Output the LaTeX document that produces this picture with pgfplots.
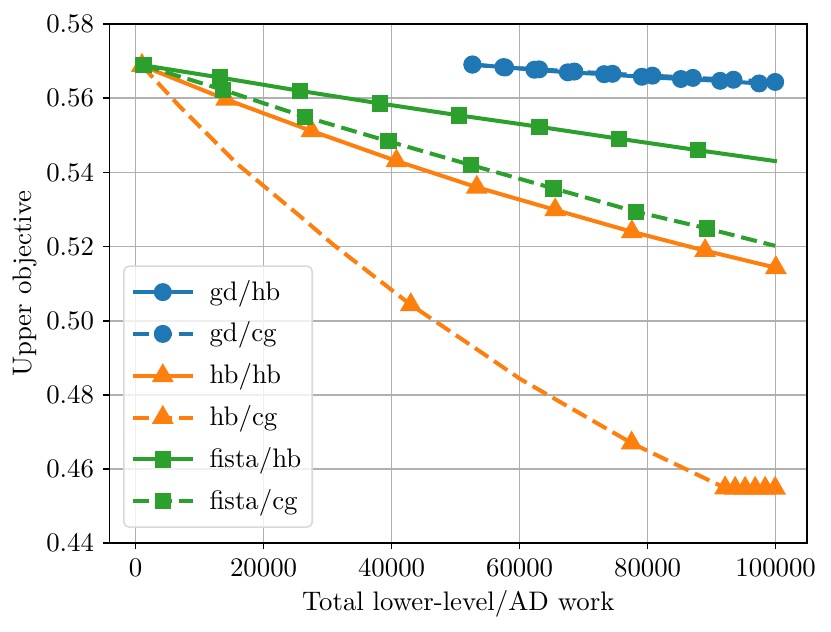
\documentclass[border=0pt]{standalone}
\usepackage{pgfplots}
\pgfplotsset{compat=1.18}
\definecolor{tabblue}{HTML}{1F77B4}
\definecolor{taborange}{HTML}{FF7F0E}
\definecolor{tabgreen}{HTML}{2CA02C}
\definecolor{gridgray}{HTML}{B0B0B0}
\begin{document}
\begin{tikzpicture}
\begin{axis}[
  name=ax,
  scale only axis,
  width=260.4pt, height=193.7pt,
  xmin=-4094, xmax=104920,
  ymin=0.44, ymax=0.58,
  xtick={0,20000,40000,60000,80000,100000},
  xticklabels={0,20000,40000,60000,80000,100000},
  ytick={0.44,0.46,0.48,0.50,0.52,0.54,0.56,0.58},
  yticklabels={0.44,0.46,0.48,0.50,0.52,0.54,0.56,0.58},
  scaled x ticks=false, scaled y ticks=false,
  tick align=outside,
  major tick length=2.2pt,
  xtick pos=bottom, ytick pos=left,
  tick style={black, line width=0.6pt},
  axis line style={black, line width=0.6pt},
  grid=major,
  major grid style={gridgray, line width=0.6pt},
  xlabel={Total lower-level/AD work},
  ylabel={Upper objective},
  xlabel style={at={(axis description cs:0.5,-0.1167)}, anchor=center},
  ylabel style={at={(axis description cs:-0.1206,0.5)}, anchor=center},
  every axis plot/.append style={line width=1.5pt},
  legend image code/.code={\draw[#1,mark indices={2},fill opacity=1,draw opacity=1] plot coordinates {(0pt,0pt) (11.2pt,0pt) (22.4pt,0pt)};},
  legend style={
    at={(axis description cs:0.0196,0.0294)}, anchor=south west,
    draw=black!15, line width=0.6pt, rounded corners=2pt,
    fill=white, fill opacity=0.8, text opacity=1,
    inner xsep=2.6pt, inner ysep=3.7pt, row sep=3.6pt, column sep=4pt,
    nodes={inner sep=1.5pt},
    cells={anchor=west},
  },
  legend cell align=left,
]
% gd/hb
\addplot[tabblue, solid, mark=*, mark size=2.6pt, mark options={solid}] coordinates {
(52630,0.5691) (57470,0.5684) (62310,0.5677) (67530,0.5670) (73200,0.5665)
(79090,0.5658) (85190,0.5652) (91330,0.5647) (97420,0.5640)
};
\addlegendentry{gd/hb}
% gd/cg
\addplot[tabblue, dash pattern=on 6pt off 2.6pt, mark=*, mark size=2.6pt, mark options={solid}] coordinates {
(52630,0.5691) (57730,0.5683) (63050,0.5678) (68560,0.5672) (74500,0.5666)
(80750,0.5661) (87060,0.5655) (93410,0.5650) (99920,0.5644)
};
\addlegendentry{gd/cg}
% hb/hb
\addplot[taborange, solid, mark=triangle*, mark size=3.2pt, mark options={solid}] coordinates {
(1000,0.5688) (14140,0.5597) (27470,0.5512) (40750,0.5431) (53310,0.5360)
(65550,0.5299) (77530,0.5240) (88980,0.5189) (100030,0.5143)
};
\addlegendentry{hb/hb}
% hb/cg
\addplot[taborange, dash pattern=on 6pt off 2.6pt, mark=triangle*, mark size=3.2pt, mark options={solid},
  mark indices={1,6,9,11,12,13,14,15,16}] coordinates {
(1000,0.5688) (6950,0.5577) (15810,0.5424) (25700,0.5282) (30900,0.5205)
(43000,0.5043) (53830,0.4917) (60080,0.4843) (77500,0.4670) (80130,0.4648)
(92100,0.4549) (93670,0.4548) (95230,0.4548) (96800,0.4548) (98360,0.4548) (99920,0.4548)
};
\addlegendentry{hb/cg}
% fista/hb
\addplot[tabgreen, solid, mark=square*, mark size=2.3pt, mark options={solid},
  mark indices={1,2,3,4,5,6,7,8}] coordinates {
(1220,0.5689) (13200,0.5656) (25700,0.5620) (38200,0.5586) (50500,0.5554)
(63100,0.5523) (75500,0.5491) (87840,0.5460) (100190,0.5430)
};
\addlegendentry{fista/hb}
% fista/cg
\addplot[tabgreen, dash pattern=on 6pt off 2.6pt, mark=square*, mark size=2.3pt, mark options={solid},
  mark indices={1,2,3,4,5,6,7,8}] coordinates {
(1220,0.5689) (13620,0.5623) (26480,0.5550) (39500,0.5484) (52370,0.5420)
(65280,0.5357) (78200,0.5294) (89250,0.5249) (99920,0.5202)
};
\addlegendentry{fista/cg}
\end{axis}
\pgfresetboundingbox
\path[use as bounding box] ([shift={(-40.8pt,-33.1pt)}]ax.south west) rectangle ([shift={(269.3pt,202.7pt)}]ax.south west);
\end{tikzpicture}
\end{document}
